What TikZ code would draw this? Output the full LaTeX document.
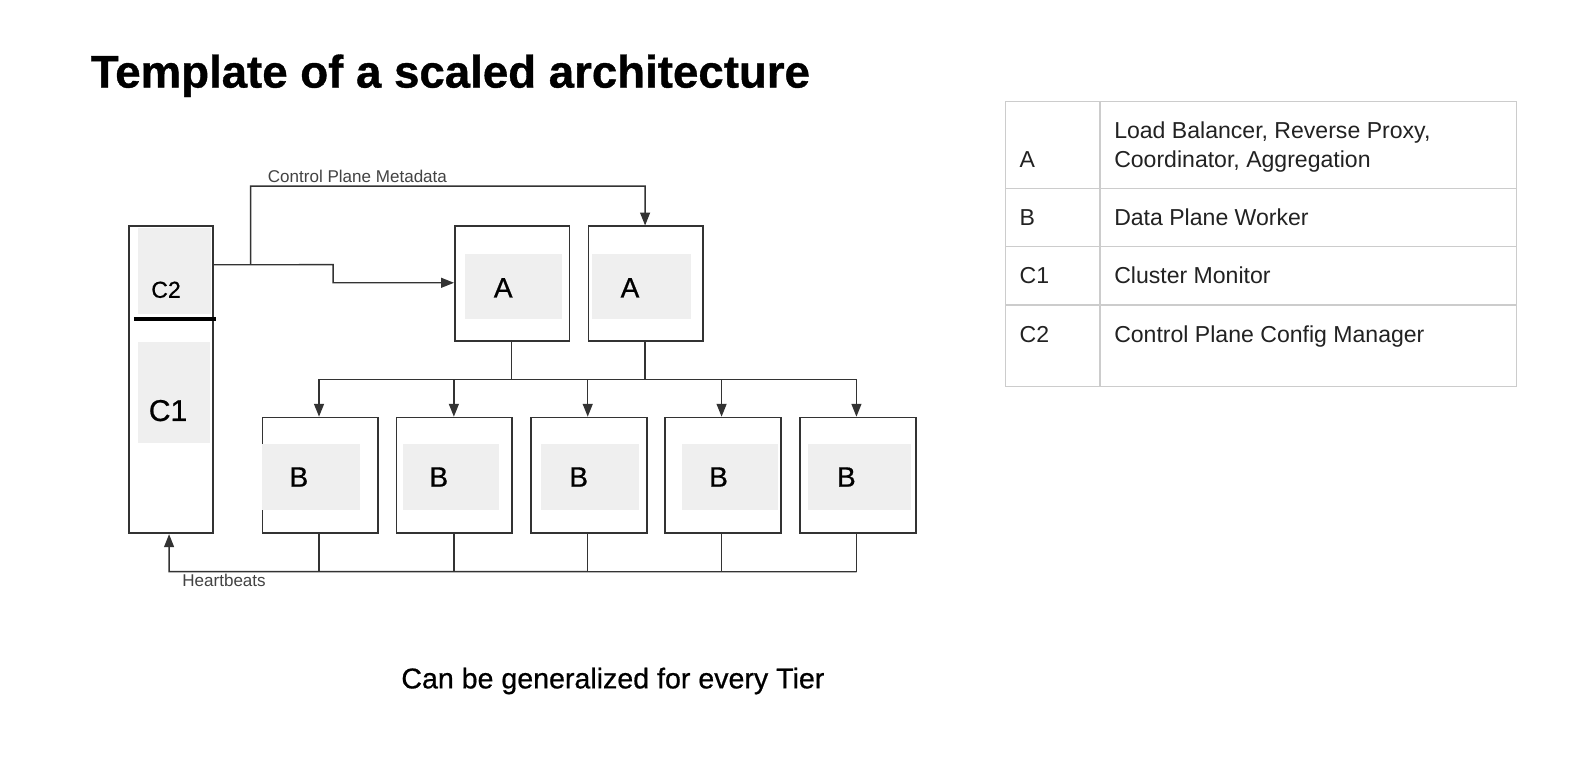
\documentclass[tikz,border=0pt]{standalone}
\usepackage{fontspec}
\setmainfont{Liberation Sans}
\newfontfamily\medfont[FakeBold=0.7]{Liberation Sans}
\newfontfamily\heavyfont[FakeBold=0.8]{Liberation Sans Bold}
\usetikzlibrary{arrows.meta}
\definecolor{boxline}{HTML}{333333}
\definecolor{grayfill}{HTML}{EFEFEF}
\definecolor{tabline}{HTML}{CCCCCC}
\definecolor{txt}{HTML}{222222}
\tikzset{
  outer/.style={draw=boxline, line width=1.7pt, fill=white, inner sep=0pt, anchor=north west},
  inner/.style={fill=grayfill, inner sep=0pt, anchor=north west},
  lbl/.style={text=black, inner sep=0pt, font=\medfont\fontsize{28}{28}\selectfont},
  conn/.style={draw=boxline, line width=1.4pt},
  arr/.style={conn, -{Triangle[length=13pt,width=10pt]}},
  small/.style={text=txt!85, inner sep=0pt, font=\fontsize{17}{17}\selectfont},
  tabtxt/.style={text=txt, inner sep=0pt, anchor=base west, font=\fontsize{23}{26}\selectfont},
}
\begin{document}
\begin{tikzpicture}[x=1bp,y=-1bp,scale=1.0064,transform shape]
\useasboundingbox[fill=white] (0,0) rectangle (1568,761.13);
% title
\node[anchor=base west, inner sep=0pt, font=\heavyfont\fontsize{45.5}{46}\selectfont] (title) at (90,87) {Template of a scaled architecture};
% left column
\node[outer, minimum width=84bp, minimum height=305bp] (col) at (127,224) {};
\node[inner, minimum width=72bp, minimum height=86bp] (c2) at (137,226) {};
\node[lbl, font=\medfont\fontsize{23}{23}\selectfont] (c2t) at (165,288) {C2};
\node[inner, minimum width=71bp, minimum height=100bp] (c1) at (137,340) {};
\node[lbl, font=\medfont\fontsize{30}{30}\selectfont] (c1t) at (167,408) {C1};
\draw[line width=4.2pt, black] (133,317) -- (215,317);
% A boxes
\node[outer, minimum width=114bp, minimum height=114bp] (a1) at (451,224) {};
\node[inner, minimum width=96bp, minimum height=65bp] (a1g) at (462,252) {};
\node[lbl] (a1t) at (500,286) {A};
\node[outer, minimum width=114bp, minimum height=114bp] (a2) at (584,224) {};
\node[inner, minimum width=98bp, minimum height=65bp] (a2g) at (588,252) {};
\node[lbl] (a2t) at (626,286) {A};
% B boxes
\foreach \i/\x/\gx/\gw/\tx in {1/260/260/98/297, 2/393/400/96/436, 3/527/537/98/575, 4/660/677/96/714, 5/794/803/102/841}{
  \node[outer, minimum width=115bp, minimum height=115bp] (b\i) at (\x,414) {};
  \node[inner, minimum width=\gw bp, minimum height=66bp] (b\i g) at (\gx,441) {};
  \node[lbl] (b\i t) at (\tx,474) {B};
}
% connectors from C2
\coordinate (c2out) at (211,263);
\coordinate (cpm) at (249,263);
\draw[arr] (c2out) -- (331,263) -- (331,281) -- (a1.west |- 0,281);
\draw[arr] (cpm) -- (249,185) -- (641,185) -- (a2.north -| 641,0);
\node[small, anchor=base west] (cpmt) at (266,181) {Control Plane Metadata};
% A to B bus
\coordinate (busl) at (317,377);
\coordinate (busr) at (851,377);
\draw[conn] (a1.south -| 508,0) -- (508,377);
\draw[conn] (a2.south -| 641,0) -- (641,377);
\draw[conn] (busl) -- (busr);
\foreach \i/\x in {1/317,2/451,3/584,4/717,5/851}{
  \draw[arr] (\x,377) -- (b\i.north -| \x,0);
}
% heartbeats
\foreach \i/\x in {1/317,2/451,3/584,4/717,5/851}{
  \draw[conn] (b\i.south -| \x,0) -- (\x,568);
}
\coordinate (hbr) at (851,568);
\draw[arr] (hbr) -- (168,568) -- (col.south -| 168,0);
\node[small, anchor=base west] (hbt) at (181,583) {Heartbeats};
% table
\draw[tabline, line width=1.3pt] (999,101) rectangle (1507,384);
\draw[tabline, line width=1.3pt] (1093,101) -- (1093,384);
\foreach \y in {187,245,303}{ \draw[tabline, line width=1.3pt] (999,\y) -- (1507,\y); }
\node[tabtxt] (ta) at (1013,166) {A};
\node[tabtxt] (tad1) at (1107,138) {Load Balancer, Reverse Proxy,};
\node[tabtxt] (tad2) at (1107,166) {Coordinator, Aggregation};
\node[tabtxt] (tb) at (1013,224) {B};
\node[tabtxt] (tbd) at (1107,224) {Data Plane Worker};
\node[tabtxt] (tc1) at (1013,282) {C1};
\node[tabtxt] (tc1d) at (1107,282) {Cluster Monitor};
\node[tabtxt] (tc2) at (1013,340) {C2};
\node[tabtxt] (tc2d) at (1107,340) {Control Plane Config Manager};
% footer
\node[anchor=base, inner sep=0pt, text=black, font=\medfont\fontsize{28.5}{29}\selectfont] (foot) at (609,684) {Can be generalized for every Tier};
\end{tikzpicture}
\end{document}
